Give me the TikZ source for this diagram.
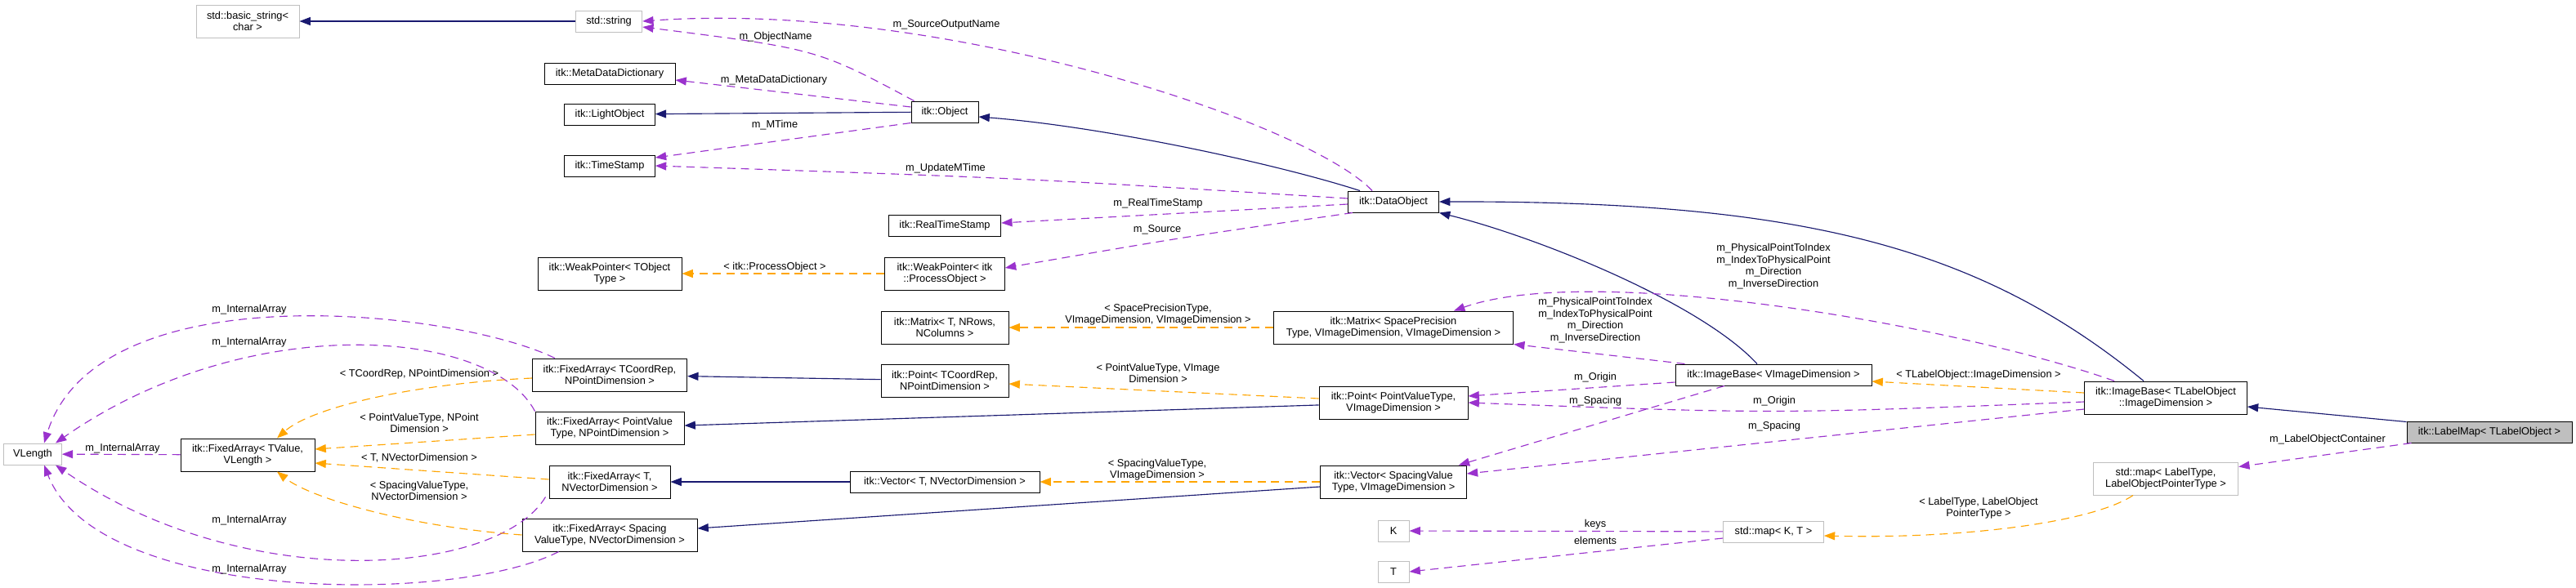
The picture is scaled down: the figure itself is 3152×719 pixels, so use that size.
\documentclass[tikz,border=0pt]{standalone}
\usepackage{fontspec}
\setmainfont{Liberation Sans}
\usetikzlibrary{arrows.meta, calc}
\definecolor{inh-blue}{HTML}{191970}
\definecolor{use-purple}{HTML}{9A32CD}
\definecolor{tpl-orange}{HTML}{FFA500}
\definecolor{ext-gray}{HTML}{BFBFBF}
\newcommand{\dxfont}{\fontsize{9.6}{10.9}\selectfont}

\begin{document}
\begin{tikzpicture}[x=0.75pt, y=-0.75pt,
    cls/.style={draw=black, fill=white, line width=0.75pt, minimum height=19.5pt,
                inner xsep=2pt, inner ysep=1pt, align=center, font=\dxfont},
    ext/.style={cls, draw=ext-gray},
    two/.style={minimum height=30pt},
    lbl/.style={inner sep=0pt, align=center, font=\dxfont},
    inherit/.style={draw=inh-blue, line width=0.85pt, -{Triangle[length=10pt, width=7.5pt]}},
    usage/.style={draw=use-purple, line width=0.85pt, dash pattern=on 7.5pt off 5pt,
                  -{Triangle[length=10pt, width=7.5pt]}},
    templ/.style={draw=tpl-orange, line width=0.85pt, dash pattern=on 7.5pt off 5pt,
                  -{Triangle[length=10pt, width=7.5pt]}}]
    % Diagram: collaboration graph of itk::LabelMap.
    % Coordinates: pixels of the 3152x719 sheet, y grows downwards
    %   columns at x = 40, 303, 746, 1156, 1705, 2170, 2650, 3046
    \fill[white] (0,0) rectangle (3152,719);
    \useasboundingbox (0,0) rectangle (3152,719);

    % column x=303 and VLength
    \node[ext, two, minimum width=94.5pt] (bstr) at (303,26) {std::basic\_string<\\char >};
    \node[cls, two, minimum width=123pt] (faV) at (303,557) {itk::FixedArray< TValue,\\VLength >};
    \node[ext, minimum width=53pt] (vlen) at (40,556) {VLength};

    % column x=746
    \node[ext, minimum width=61pt] (str) at (745,26) {std::string};
    \node[cls, minimum width=120pt] (mdd) at (746,90) {itk::MetaDataDictionary};
    \node[cls, minimum width=83pt] (lobj) at (746,140) {itk::LightObject};
    \node[cls, minimum width=83pt] (tstamp) at (746,203) {itk::TimeStamp};
    \node[cls, two, minimum width=132pt] (wpt) at (746,335) {itk::WeakPointer< TObject\\Type >};
    \node[cls, two, minimum width=142pt] (faTC) at (746,459) {itk::FixedArray< TCoordRep,\\NPointDimension >};
    \node[cls, two, minimum width=136.5pt] (faPV) at (746,524) {itk::FixedArray< PointValue\\Type, NPointDimension >};
    \node[cls, two, minimum width=111pt] (faT) at (746,590) {itk::FixedArray< T,\\NVectorDimension >};
    \node[cls, two, minimum width=160.5pt] (faS) at (746,655) {itk::FixedArray< Spacing\\ValueType, NVectorDimension >};

    % column x=1156
    \node[cls, minimum width=61.5pt] (obj) at (1156,137) {itk::Object};
    \node[cls, minimum width=103pt] (rts) at (1156,276) {itk::RealTimeStamp};
    \node[cls, two, minimum width=110pt] (wpp) at (1156,335) {itk::WeakPointer< itk\\::ProcessObject >};
    \node[cls, two, minimum width=117pt] (matT) at (1156,401) {itk::Matrix< T, NRows,\\NColumns >};
    \node[cls, two, minimum width=117pt] (ptTC) at (1156,466) {itk::Point< TCoordRep,\\NPointDimension >};
    \node[cls, minimum width=174pt] (vecT) at (1156,590) {itk::Vector< T, NVectorDimension >};

    % column x=1705
    \node[cls, minimum width=83.25pt] (dobj) at (1705,247) {itk::DataObject};
    \node[cls, two, minimum width=220pt] (matS) at (1705,401) {itk::Matrix< SpacePrecision\\Type, VImageDimension, VImageDimension >};
    \node[cls, two, minimum width=136.5pt] (ptPV) at (1705,493) {itk::Point< PointValueType,\\VImageDimension >};
    \node[cls, two, minimum width=134pt] (vecS) at (1705,590) {itk::Vector< SpacingValue\\Type, VImageDimension >};
    \node[ext, minimum width=28.5pt] (kk) at (1705,650) {K};
    \node[ext, minimum width=28.5pt] (tt) at (1705,700) {T};

    % columns x=2170 to 3046
    \node[cls, minimum width=180pt] (ibV) at (2170,459) {itk::ImageBase< VImageDimension >};
    \node[ext, minimum width=92pt] (mapKT) at (2170,651) {std::map< K, T >};
    \node[cls, two, minimum width=149pt] (ibL) at (2650,487) {itk::ImageBase< TLabelObject\\::ImageDimension >};
    \node[ext, two, minimum width=133pt] (mapL) at (2650,586) {std::map< LabelType,\\LabelObjectPointerType >};
    \node[cls, fill=ext-gray, minimum width=151.5pt] (lmap) at (3046,529) {itk::LabelMap< TLabelObject >};

    % inheritance
    \draw[inherit] (str) -- (bstr);
    \draw[inherit] (obj) -- (lobj);
    \draw[inherit] ($(dobj.north west)+(15,0)$) .. controls (1560,200) and (1350,155) .. ($(obj.east)+(0,6)$);
    \draw[inherit] ($(ibV.north)+(-20,0)$) .. controls (2080,370) and (1880,290) .. (dobj.south east);
    \draw[inherit] ($(ibL.north)+(-27,0)$) .. controls (2420,300) and (2200,246) .. (dobj.east);
    \draw[inherit] ($(lmap.north west)+(0,1)$) -- ($(ibL.east)+(0,11)$);
    \draw[inherit] (ptTC) -- (faTC);
    \draw[inherit] (ptPV) -- (faPV);
    \draw[inherit] (vecT) -- (faT);
    \draw[inherit] ($(vecS.west)+(0,6)$) -- ($(faS.east)+(0,-8)$);

    % members
    \draw[usage] ($(obj.north west)+(4,0)$) .. controls (1000,60) .. ($(str.east)+(0,7)$);
    \draw[usage] ($(dobj.north west)+(30,0)$) .. controls (1600,150) and (1150,0) .. (str.east);
    \draw[usage] ($(obj.west)+(0,-6)$) -- ($(mdd.east)+(0,8)$);
    \draw[usage] (obj.south west) -- ($(tstamp.east)+(0,-10)$);
    \draw[usage] ($(dobj.west)+(0,-4)$) .. controls (1250,218) .. (tstamp.east);
    \draw[usage] ($(dobj.west)+(0,3)$) -- ($(rts.east)+(0,-3)$);
    \draw[usage] ($(dobj.south west)+(6,0)$) .. controls (1450,290) .. ($(wpp.east)+(0,-7)$);
    \draw[usage] ($(ibV.north west)+(12,0)$) -- (matS.south east);
    \draw[usage] ($(ibL.north west)+(37,0)$) .. controls (2400,400) and (1950,320) .. ($(matS.north)+(74,0)$);
    \draw[usage] ($(ibV.west)+(0,9)$) -- ($(ptPV.east)+(0,-8)$);
    \draw[usage] ($(ibV.south)+(-60,0)$) -- ($(vecS.north east)+(-10,0)$);
    \draw[usage] ($(ibL.west)+(0,5)$) .. controls (2171,507) .. (ptPV.east);
    \draw[usage] ($(ibL.west)+(0,14)$) -- ($(vecS.east)+(0,-10)$);
    \draw[usage] ($(lmap.south west)+(6,0)$) -- ($(mapL.north east)+(0,6)$);
    \draw[usage] (mapKT) -- (kk);
    \draw[usage] ($(mapKT.west)+(0,8)$) -- (tt.east);
    \draw[usage] (faV) -- (vlen);
    \draw[usage] ($(faTC.north west)+(28,0)$) .. controls (560,380) and (120,330) .. ($(vlen.north)+(14,0)$);
    \draw[usage] (faPV.north west) .. controls (600,400) and (300,380) .. ($(vlen.north)+(28,0)$);
    \draw[usage] ($(faT.south west)+(-4,-2)$) .. controls (610,705) and (300,730) .. ($(vlen.south)+(28,0)$);
    \draw[usage] ($(faS.south west)+(45,0)$) .. controls (560,740) and (120,740) .. ($(vlen.south)+(14,0)$);

    % template instances
    \draw[templ] (wpp) -- (wpt);
    \draw[templ] (matS) -- (matT);
    \draw[templ] ($(ptPV.west)+(0,-5)$) -- ($(ptTC.east)+(0,4)$);
    \draw[templ] ($(ibL.west)+(0,-6)$) -- ($(ibV.east)+(0,8)$);
    \draw[templ] (vecS) -- (vecT);
    \draw[templ] ($(mapL.south)+(-40,0)$) .. controls (2560,640) and (2400,660) .. ($(mapKT.east)+(0,5)$);
    \draw[templ] ($(faTC.west)+(0,4)$) .. controls (500,470) and (380,500) .. ($(faV.north)+(36,0)$);
    \draw[templ] ($(faPV.west)+(0,8)$) -- ($(faV.east)+(0,-7)$);
    \draw[templ] ($(faT.west)+(0,-3)$) -- ($(faV.east)+(0,10)$);
    \draw[templ] (faS.west) .. controls (500,645) and (380,610) .. ($(faV.south)+(36,0)$);

    % edge labels
    \node[lbl] (lSrcOut) at (1158,30) {m\_SourceOutputName};
    \node[lbl] (lObjName) at (949,45) {m\_ObjectName};
    \node[lbl] (lMDD) at (947,98) {m\_MetaDataDictionary};
    \node[lbl] (lMTime) at (948,153) {m\_MTime};
    \node[lbl] (lUpd) at (1157,206) {m\_UpdateMTime};
    \node[lbl] (lRTS) at (1417,249) {m\_RealTimeStamp};
    \node[lbl] (lSrc) at (1416,281) {m\_Source};
    \node[lbl] (lProc) at (948,327) {< itk::ProcessObject >};
    \node[lbl] (lMatT) at (1417,385) {< SpacePrecisionType,\\VImageDimension, VImageDimension >};
    \node[lbl] (lPtTC) at (1417,457) {< PointValueType, VImage\\Dimension >};
    \node[lbl] (lVecT) at (1416,575) {< SpacingValueType,\\VImageDimension >};
    \node[lbl] (lIA1) at (305,379) {m\_InternalArray};
    \node[lbl] (lIA2) at (305,419) {m\_InternalArray};
    \node[lbl] (lIA0) at (150,549) {m\_InternalArray};
    \node[lbl] (lIA3) at (305,637) {m\_InternalArray};
    \node[lbl] (lIA4) at (305,697) {m\_InternalArray};
    \node[lbl] (lFaTC) at (513,458) {< TCoordRep, NPointDimension >};
    \node[lbl] (lFaPV) at (513,518) {< PointValueType, NPoint\\Dimension >};
    \node[lbl] (lFaT) at (513,561) {< T, NVectorDimension >};
    \node[lbl] (lFaS) at (513,601) {< SpacingValueType,\\NVectorDimension >};
    \node[lbl] (lDirL) at (2170,326) {m\_PhysicalPointToIndex\\m\_IndexToPhysicalPoint\\m\_Direction\\m\_InverseDirection};
    \node[lbl] (lDirV) at (1952,392) {m\_PhysicalPointToIndex\\m\_IndexToPhysicalPoint\\m\_Direction\\m\_InverseDirection};
    \node[lbl] (lOrgV) at (1952,462) {m\_Origin};
    \node[lbl] (lSpcV) at (1952,491) {m\_Spacing};
    \node[lbl] (lOrgL) at (2171,491) {m\_Origin};
    \node[lbl] (lSpcL) at (2171,522) {m\_Spacing};
    \node[lbl] (lIB) at (2421,459) {< TLabelObject::ImageDimension >};
    \node[lbl] (lMapL) at (2421,622) {< LabelType, LabelObject\\PointerType >};
    \node[lbl] (lKeys) at (1952,642) {keys};
    \node[lbl] (lElem) at (1952,662) {elements};
    \node[lbl] (lCont) at (2848,538) {m\_LabelObjectContainer};
\end{tikzpicture}
\end{document}
